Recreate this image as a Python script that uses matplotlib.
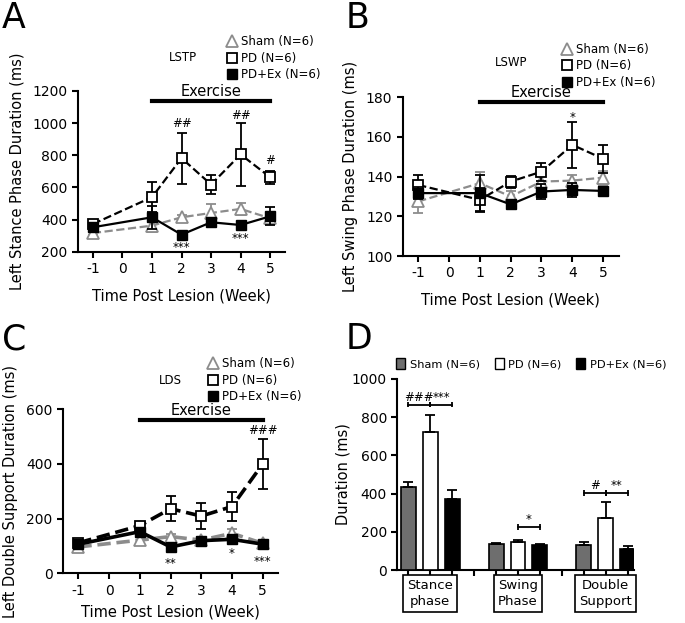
import numpy as np
import matplotlib.pyplot as plt
from matplotlib.lines import Line2D
from matplotlib.patches import Patch

plt.rcParams['font.family'] = ['DejaVu Sans']
plt.rcParams['axes.unicode_minus'] = False

weeks = [-1, 1, 2, 3, 4, 5]

# A: left stance phase (ms)
stance_sham = [316, 362, 414, 441, 466, 408]
stance_sham_err = [15, 37, 15, 56, 35, 25]
stance_pd = [372, 539, 782, 618, 805, 663]
stance_pd_err = [10, 93, 158, 62, 197, 40]
stance_ex = [352, 414, 306, 383, 366, 420]
stance_ex_err = [15, 73, 10, 15, 10, 56]

# B: left swing phase (ms)
swing_sham = [127.5, 136.7, 130, 137.5, 138, 139.5]
swing_sham_err = [5.8, 5.8, 3, 3, 3, 3.5]
swing_pd = [135.8, 128.3, 137.5, 142.5, 156, 149]
swing_pd_err = [5, 6, 3, 4.5, 11.5, 7]
swing_ex = [131.7, 131.7, 126, 132.5, 133.3, 132.8]
swing_ex_err = [3, 9, 2, 4, 3.5, 2]

# C: left double support (ms)
ds_sham = [96, 121, 134, 121, 146, 109]
ds_sham_err = [10, 10, 10, 10, 15, 8]
ds_pd = [111, 174, 236, 209, 244, 400]
ds_pd_err = [10, 15, 46, 47, 53, 90]
ds_ex = [106, 152, 96, 119, 124, 106]
ds_ex_err = [8, 12, 8, 10, 13, 8]

# D: summary bars
phases = ['Stance\nphase', 'Swing\nPhase', 'Double\nSupport']
bar_sham = [434, 135, 129]
bar_sham_err = [26, 5, 20]
bar_pd = [720, 145, 271]
bar_pd_err = [89, 12, 87]
bar_ex = [372, 131, 112]
bar_ex_err = [48, 4, 12]

labels = ['Sham (N=6)', 'PD (N=6)', 'PD+Ex (N=6)']
gray = '#8c8c8c'

fig = plt.figure(figsize=(6.85, 6.23), dpi=100)


def style_axes(ax):
    for s in ['top', 'right']:
        ax.spines[s].set_visible(False)
    for s in ['left', 'bottom']:
        ax.spines[s].set_linewidth(1.5)
    ax.tick_params(width=1.5, length=4, labelsize=10)


def line_panel(rect, sham, sham_e, pd, pd_e, ex, ex_e, ylim, yticks, ylabel,
               tag, tag_pos, leg_pos, bar_y, lw, marks, xpad=9):
    ax = fig.add_axes(rect)
    style_axes(ax)
    ax.errorbar(weeks, sham, yerr=sham_e, color=gray, ls='--', lw=lw, marker='^',
                ms=8, mfc='white', mec=gray, mew=1.3, capsize=3.5, elinewidth=1.3,
                capthick=1.3, zorder=3)
    ax.errorbar(weeks, pd, yerr=pd_e, color='black', ls='--', lw=lw, marker='s',
                ms=7, mfc='white', mec='black', mew=1.3, capsize=3.5, elinewidth=1.3,
                capthick=1.3, zorder=4)
    ax.errorbar(weeks, ex, yerr=ex_e, color='black', ls='-', lw=lw, marker='s',
                ms=6.5, mfc='black', mec='black', capsize=3.5, elinewidth=1.3,
                capthick=1.3, zorder=5)
    ax.set_xlim(-1.5, 5.5)
    ax.set_ylim(*ylim)
    ax.set_yticks(yticks)
    ax.set_xticks(range(-1, 6))
    ax.set_xlabel('Time Post Lesion (Week)', fontsize=10.5, labelpad=xpad)
    ax.set_ylabel(ylabel, fontsize=10.5, labelpad=6)
    # exercise bar
    ax.plot([1, 5], [bar_y, bar_y], color='black', lw=3, clip_on=False)
    span = ylim[1] - ylim[0]
    ax.text(3, bar_y + span * 0.015, 'Exercise', ha='center', va='bottom', fontsize=10.5)
    for x, y, s in marks:
        ax.text(x, y, s, ha='center', va='center', fontsize=8.5)
    handles = [
        Line2D([], [], ls='none', marker='^', ms=8, mfc='white', mec=gray, mew=1.3),
        Line2D([], [], ls='none', marker='s', ms=7, mfc='white', mec='black', mew=1.3),
        Line2D([], [], ls='none', marker='s', ms=6.5, mfc='black', mec='black'),
    ]
    fig.legend(handles, labels, loc='upper left', bbox_to_anchor=leg_pos,
               frameon=False, fontsize=8.5, handlelength=0.8, handletextpad=0.4,
               labelspacing=0.3, borderpad=0)
    fig.text(tag_pos[0], tag_pos[1], tag, ha='center', va='center', fontsize=8.5)
    return ax


line_panel([0.114, 0.596, 0.302, 0.258], stance_sham, stance_sham_err, stance_pd,
           stance_pd_err, stance_ex, stance_ex_err, (200, 1200),
           range(200, 1201, 200), 'Left Stance Phase Duration (ms)', 'LSTP',
           (0.267, 0.907), (0.323, 0.953), 1135, 1.6,
           [(2, 996, '##'), (4, 1048, '##'), (5, 768, '#'),
            (2, 227, '***'), (4, 279, '***')])

line_panel([0.588, 0.589, 0.315, 0.255], swing_sham, swing_sham_err, swing_pd,
           swing_pd_err, swing_ex, swing_ex_err, (100, 180),
           range(100, 181, 20), 'Left Swing Phase Duration (ms)', 'LSWP',
           (0.746, 0.900), (0.812, 0.941), 177.5, 1.6,
           [(4, 170, '*')])

line_panel([0.092, 0.080, 0.314, 0.263], ds_sham, ds_sham_err, ds_pd,
           ds_pd_err, ds_ex, ds_ex_err, (0, 600),
           range(0, 601, 200), 'Left Double Support Duration (ms)', 'LDS',
           (0.248, 0.390), (0.295, 0.436), 560, 2.6,
           [(5, 521, '###'), (2, 37, '**'), (4, 71, '*'), (5, 44, '***')], xpad=5)

# D: bars
ax = fig.add_axes([0.580, 0.085, 0.346, 0.307])
style_axes(ax)
centers = np.array([1, 5, 9])
w = 0.68
kw = dict(width=w, edgecolor='black', linewidth=1.2, capsize=3.5,
          error_kw=dict(elinewidth=1.3, capthick=1.3), zorder=3)
ax.bar(centers - 1, bar_sham, yerr=[np.zeros(3), bar_sham_err], color='#6e6e6e', **kw)
ax.bar(centers, bar_pd, yerr=[np.zeros(3), bar_pd_err], color='white', **kw)
ax.bar(centers + 1, bar_ex, yerr=[np.zeros(3), bar_ex_err], color='black', **kw)
ax.set_xlim(-0.5, 10.3)
ax.set_ylim(0, 1000)
ax.set_yticks(range(0, 1001, 200))
ax.set_xticks(range(11))
ax.set_xticklabels([])
ax.set_ylabel('Duration (ms)', fontsize=10.5, labelpad=1)
for c, p in zip(centers, phases):
    ax.text(c, -0.045, p, transform=ax.get_xaxis_transform(), ha='center', va='top',
            fontsize=9.5, linespacing=1.35,
            bbox=dict(boxstyle='square,pad=0.3', fc='white', ec='black', lw=1.2))


def bracket(x0, x1, y, s):
    ax.plot([x0, x1], [y, y], color='black', lw=1.3)
    ax.vlines([x0, x1], y - 15, y + 15, color='black', lw=1.3)
    ax.text((x0 + x1) / 2, y + 5, s, ha='center', va='bottom', fontsize=8.5)


bracket(0, 1, 865, '###')
bracket(1, 2, 865, '***')
bracket(5, 6, 224, '*')
bracket(8, 9, 402, '#')
bracket(9, 10, 402, '**')

bar_handles = [Patch(fc='#6e6e6e', ec='black'), Patch(fc='white', ec='black'),
               Patch(fc='black', ec='black')]
fig.legend(bar_handles, labels, loc='center left', bbox_to_anchor=(0.570, 0.416),
           ncol=3, frameon=False, fontsize=8.2, handlelength=0.8, handleheight=1.1,
           handletextpad=0.4, columnspacing=1.3, borderpad=0)

# panel letters
for x, y, s in [(0.003, 0.998, 'A'), (0.505, 0.998, 'B'),
                (0.003, 0.483, 'C'), (0.505, 0.483, 'D')]:
    fig.text(x, y, s, ha='left', va='top', fontsize=25)

fig.savefig('out.png', dpi=100)
